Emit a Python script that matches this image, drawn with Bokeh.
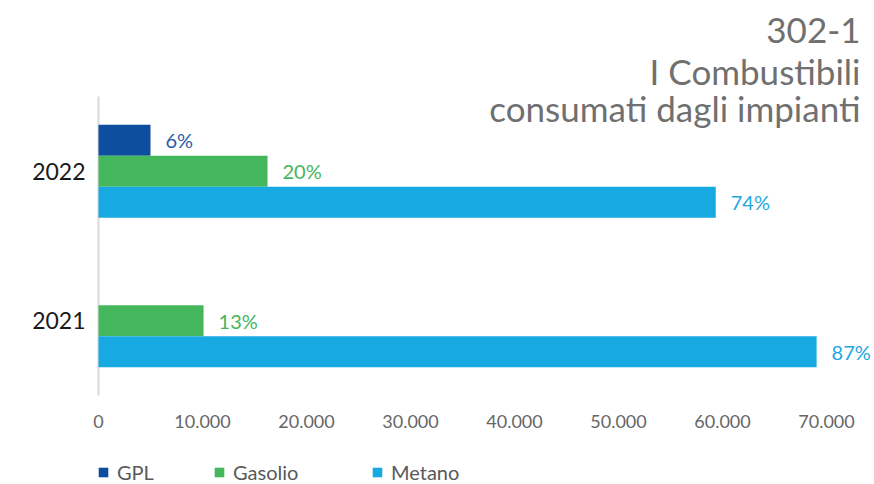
from bokeh.plotting import figure
from bokeh.models import (ColumnDataSource, Range1d, FixedTicker,
                          LabelSet, Label, Legend, LegendItem)
from bokeh.core.properties import value
from bokeh.transform import dodge
from bokeh.embed import file_html
from bokeh.resources import INLINE

# ---- data ----
years = ["2021", "2022"]
gpl = [0, 5000]
gasolio = [10100, 16250]
metano = [69050, 59350]
gpl_pct = ["", "6%"]
gasolio_pct = ["13%", "20%"]
metano_pct = ["87%", "74%"]
series_names = ["GPL", "Gasolio", "Metano"]
x_ticks = [0, 10000, 20000, 30000, 40000, 50000, 60000, 70000]
x_tick_labels = ["0", "10.000", "20.000", "30.000", "40.000", "50.000", "60.000", "70.000"]
title_lines = ["302-1", "I Combustibili", "consumati dagli impianti"]

FONT = "Lato"
bar_colors = ["#0E4E9E", "#44B65C", "#17A9E1"]
label_colors = ["#2C5DA6", "#46B55E", "#1FA8DF"]

W, Hh = 874, 484
# layout of the plotting area inside the canvas (pixels)
AX_X, AX_TOP, AX_BOT = 98, 96, 395
PX_PER_X = 104 / 10000.0
n = len(years)
PX_PER_CAT = (AX_BOT - AX_TOP) / n

ypos = [i + 0.5 for i in range(n)]  # category centres on a numeric axis

src = ColumnDataSource(dict(year=ypos, gpl=gpl, gasolio=gasolio, metano=metano,
                            gpl_pct=gpl_pct, gasolio_pct=gasolio_pct, metano_pct=metano_pct))

x_range = Range1d(-AX_X / PX_PER_X, (W - AX_X) / PX_PER_X)
y_range = Range1d(-(Hh - AX_BOT) / PX_PER_CAT, n + AX_TOP / PX_PER_CAT)

p = figure(width=W, height=Hh, output_backend="svg", toolbar_location=None,
           x_range=x_range, y_range=y_range,
           min_border_left=0, min_border_right=0, min_border_top=0, min_border_bottom=0)
p.outline_line_color = None
p.grid.visible = False
p.background_fill_color = "white"

# y axis line (only across the categories)
p.segment(x0=[0], y0=[0], x1=[0], y1=[n], line_color="#D9D9D9", line_width=2)

BH = 0.207
offsets = [BH, 0.0, -BH]
cols = ["gpl", "gasolio", "metano"]
pcts = ["gpl_pct", "gasolio_pct", "metano_pct"]
renderers = []
for col, pc, off, bc, lc in zip(cols, pcts, offsets, bar_colors, label_colors):
    r = p.hbar(y=dodge("year", off), left=0, right=col, height=BH,
               source=src, fill_color=bc, line_color=None)
    renderers.append(r)
    ls = LabelSet(x=col, y=dodge("year", off), text=pc, source=src,
                  x_offset=15, text_baseline="middle", text_align="left",
                  text_font=value(FONT), text_font_size=value("20px"), text_color=value(lc))
    p.add_layout(ls)

# axes
xa = p.xaxis[0]
xa.fixed_location = 0
xa.ticker = FixedTicker(ticks=x_ticks)
xa.major_label_overrides = {t: l for t, l in zip(x_ticks, x_tick_labels)}
xa.axis_line_color = None
xa.major_tick_line_color = None
xa.minor_tick_line_color = None
xa.major_tick_out = 0
xa.major_tick_in = 0
xa.major_label_standoff = 19
xa.major_label_text_font = FONT
xa.major_label_text_font_size = "18px"
xa.major_label_text_color = "#666666"

ya = p.yaxis[0]
ya.fixed_location = 0
ya.ticker = FixedTicker(ticks=ypos)
ya.major_label_overrides = {t: l for t, l in zip(ypos, years)}
ya.axis_line_color = None
ya.major_tick_line_color = None
ya.minor_tick_line_color = None
ya.major_tick_out = 0
ya.major_tick_in = 0
ya.major_label_standoff = 13
ya.major_label_text_font = FONT
ya.major_label_text_font_size = "23px"
ya.major_label_text_color = "#1A1A1A"

# title lines (screen units)
for txt, yy in zip(title_lines, [454, 414, 377]):
    p.add_layout(Label(x=860, y=yy, x_units="screen", y_units="screen", text=txt,
                       text_align="right", text_baseline="alphabetic",
                       text_font=FONT, text_font_size="35px", text_color="#707070"))

# legends
for name, r, lx in zip(series_names, renderers, [97, 213, 371]):
    lg = Legend(items=[LegendItem(label=name, renderers=[r])], location=(lx, 0),
                orientation="horizontal", padding=0, margin=0, spacing=0,
                glyph_width=12, glyph_height=12, label_standoff=8, label_height=20,
                label_text_font=FONT, label_text_font_size="20px",
                label_text_color="#595959", border_line_color=None,
                background_fill_alpha=0)
    p.add_layout(lg)

open("out.html", "w").write(file_html(p, INLINE))
